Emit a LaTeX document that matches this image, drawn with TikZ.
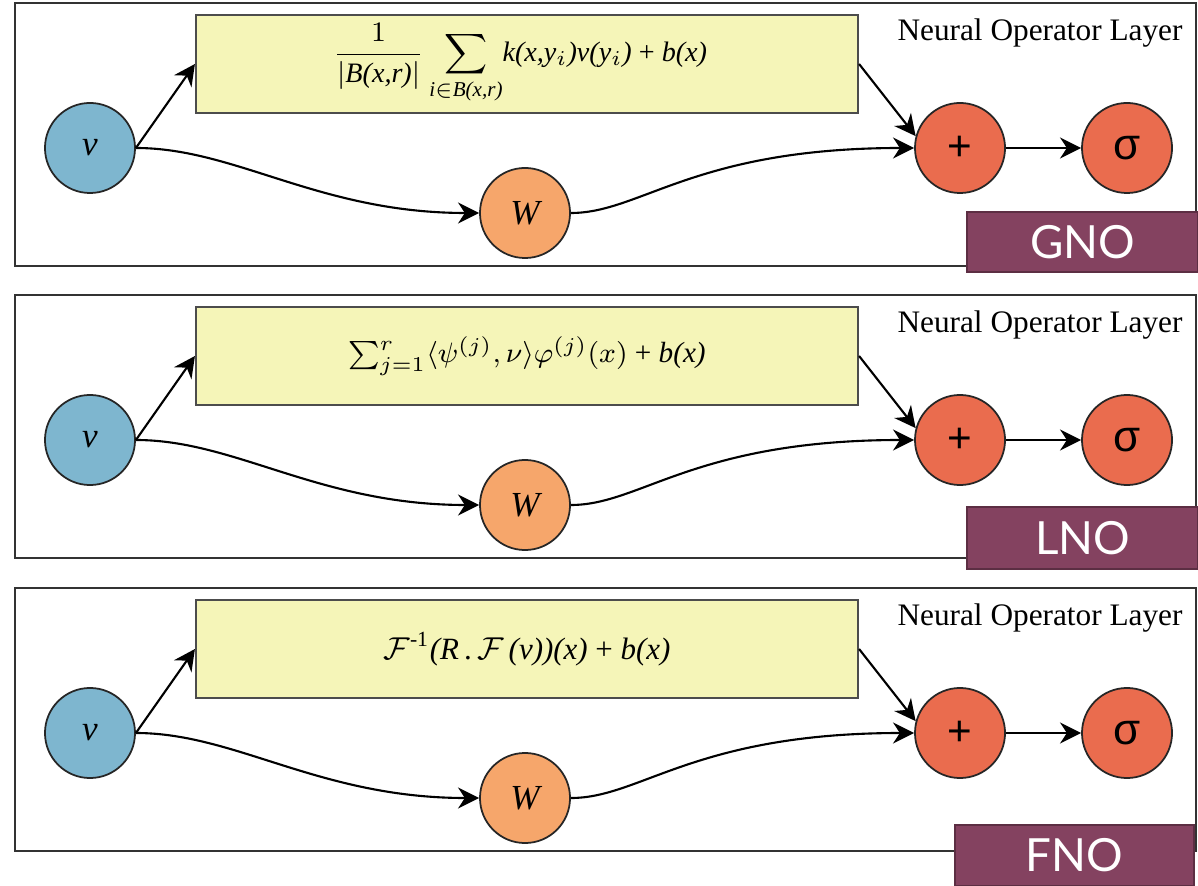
\documentclass[tikz,border=0pt]{standalone}
\usepackage{amsmath}
\usepackage{fontspec}
\setmainfont{Liberation Serif}
\newfontfamily\tagfont{Lato}
\newfontfamily\opfont{Liberation Sans}
\usetikzlibrary{arrows.meta}

\definecolor{inblue}{RGB}{126,182,207}
\definecolor{wgold}{RGB}{246,166,107}
\definecolor{actred}{RGB}{234,108,78}
\definecolor{kernelyellow}{RGB}{245,245,184}
\definecolor{tagpurple}{RGB}{132,66,96}

\begin{document}
\begin{tikzpicture}[
    x=0.01cm, y=-0.01cm,
    panel/.style={draw=black!80, line width=0.7pt},
    kernel/.style={draw=black!70, fill=kernelyellow, line width=0.5pt, minimum width=6.62cm, minimum height=0.98cm, inner sep=0pt},
    unit/.style={circle, draw=black!85, line width=0.5pt, minimum size=0.9cm, inner sep=0pt},
    flow/.style={-{Stealth[length=6pt, width=6pt]}, line width=0.6pt},
    formula/.style={font=\fontsize{8.8}{10}\selectfont},
    tagbox/.style={fill=tagpurple, draw=tagpurple!70!black, line width=0.5pt, text=white, inner sep=0pt, font=\tagfont\fontsize{13}{13}\selectfont}
]
    \useasboundingbox (0,0) rectangle (1198,886);

    % Las tres capas (GNO, LNO, FNO) comparten la misma estructura
    \foreach \p/\dy in {1/0, 2/292, 3/585} {
        \draw[panel] (15,3+\dy) rectangle (1196,266+\dy);

        % Nodos de la capa
        \node[unit, fill=inblue, font=\fontsize{10}{10}\selectfont\itshape] (v\p) at (90,148+\dy) {v};
        \node[unit, fill=wgold, font=\fontsize{10}{10}\selectfont\itshape] (W\p) at (525,213+\dy) {W};
        \node[unit, fill=actred, font=\opfont\fontsize{12}{12}\selectfont] (P\p) at (960,148+\dy) {+};
        \node[unit, fill=actred, font=\opfont\fontsize{12.5}{12}\selectfont] (S\p) at (1127,148+\dy) {σ};
        \node[kernel] (K\p) at (527,64+\dy) {};
        \node[font=\fontsize{8.9}{10}\selectfont] (T\p) at (1040,33+\dy) {Neural Operator Layer};

        % Conexiones
        \draw[flow] (v\p.east) -- (K\p.west);
        \draw[flow] (v\p.east) .. controls +(100,0) and +(-160,0) .. (W\p.west);
        \draw[flow] (W\p.east) .. controls +(70,0) and +(-220,0) .. (P\p.west);
        \draw[flow] (K\p.east) -- (P\p.165);
        \draw[flow] (P\p) -- (S\p);
    }

    % Operadores integrales de cada capa
    \node[formula, font=\fontsize{8}{10}\selectfont] (F1) at (520,64) {$\displaystyle\frac{1}{|\textit{B(x,r)}|}\sum_{\textit{i}\in\textit{B(x,r)}}$\textit{k(x,y$_i$)v(y$_i$)} + \textit{b(x)}};
    \node[formula, font=\fontsize{8.3}{10}\selectfont] (F2) at (K2) {$\sum_{j=1}^{r}\langle\psi^{(j)},\nu\rangle\varphi^{(j)}(x)$ + \textit{b(x)}};
    \node[formula] (F3) at (K3) {$\mathcal{F}^{\text{-1}}$\textit{(R}\,.\,$\mathcal{F}$\,\textit{(v))(x)} + \textit{b(x)}};

    % Etiquetas
    \node[tagbox, minimum width=2.31cm, minimum height=0.6cm] (gno) at (1082.5,242) {GNO};
    \node[tagbox, minimum width=2.31cm, minimum height=0.62cm] (lno) at (1082.5,538) {LNO};
    \node[tagbox, minimum width=2.39cm, minimum height=0.61cm] (fno) at (1074.5,855.5) {FNO};
\end{tikzpicture}
\end{document}
